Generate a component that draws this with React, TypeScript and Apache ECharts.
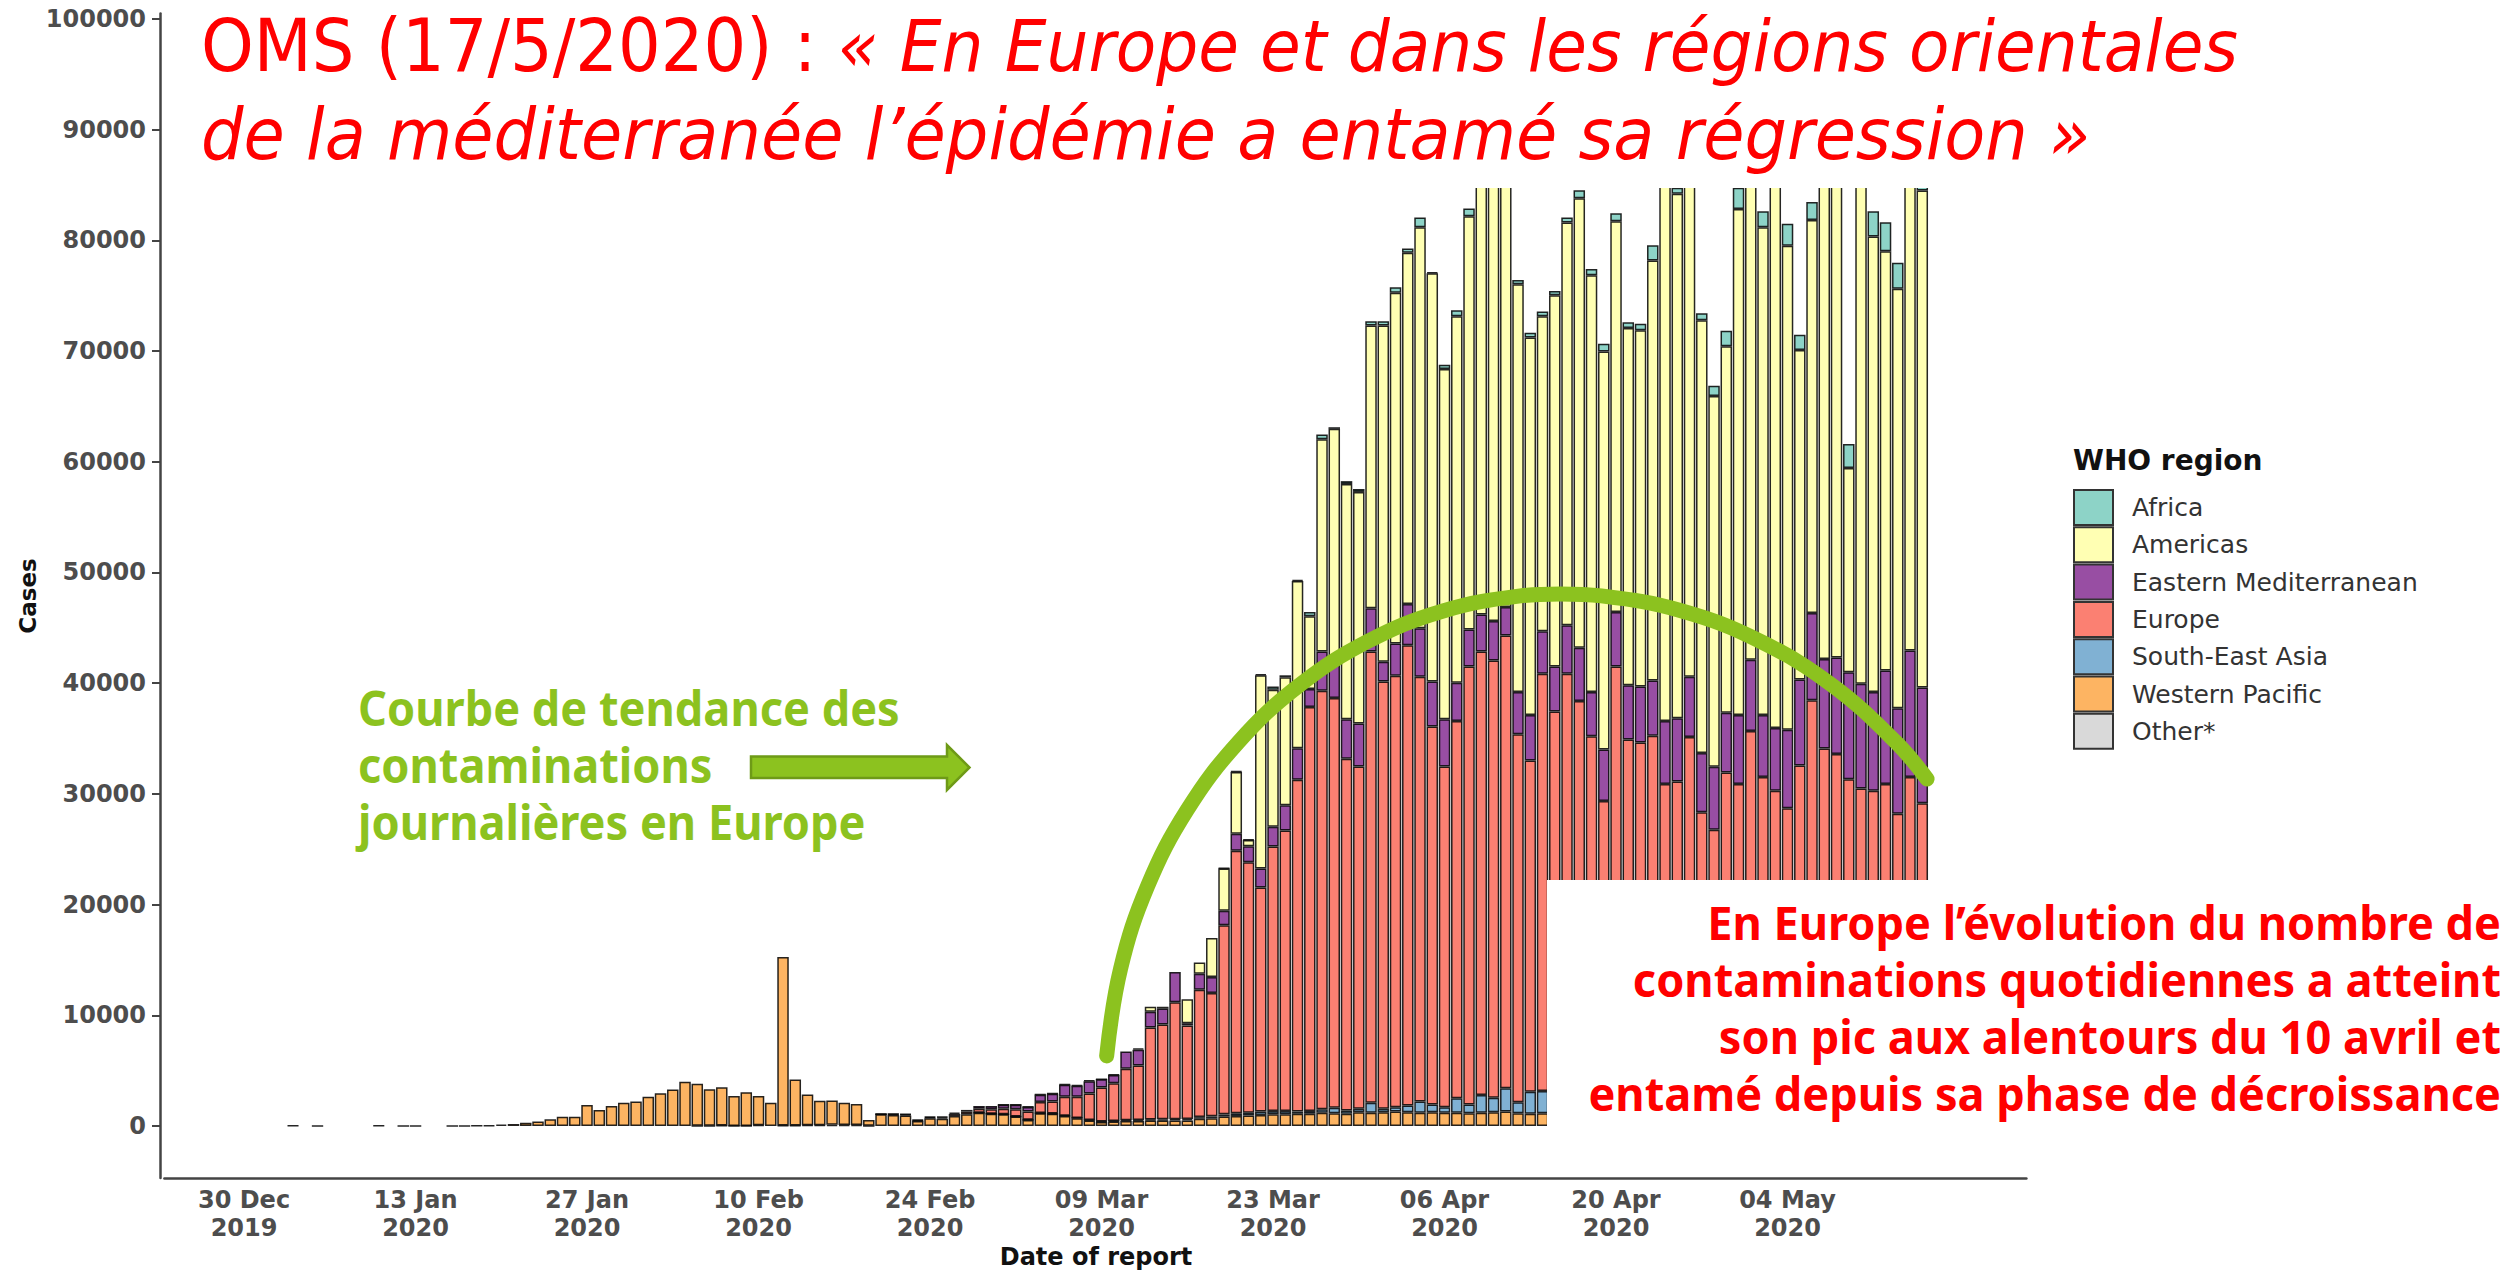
import React, { useEffect, useRef } from "react";
import * as echarts from "echarts";

// ---------- categories & ticks ----------
const firstCategoryUTC = Date.UTC(2019, 11, 24); // 24 Dec 2019
const categoryCount = 152;
const dataOffset = 6; // series arrays start on 30 Dec 2019

const tickDates = [
  "2019-12-30", "2020-01-13", "2020-01-27", "2020-02-10", "2020-02-24",
  "2020-03-09", "2020-03-23", "2020-04-06", "2020-04-20", "2020-05-04",
];
const tickLabels = [
  "30 Dec\n2019", "13 Jan\n2020", "27 Jan\n2020", "10 Feb\n2020", "24 Feb\n2020",
  "09 Mar\n2020", "23 Mar\n2020", "06 Apr\n2020", "20 Apr\n2020", "04 May\n2020",
];
const yTicks = [0, 10000, 20000, 30000, 40000, 50000, 60000, 70000, 80000, 90000, 100000];

// ---------- series (daily cases from 30 Dec 2019) ----------
const other = [
  0, 0, 0, 0, 0, 0, 0, 0, 0, 0,
  0, 0, 0, 0, 0, 0, 0, 0, 0, 0,
  0, 0, 0, 0, 0, 0, 0, 0, 0, 0,
  0, 0, 0, 0, 0, 0, 0, 10, 10, 40,
  3, 6, 65, 0, 40, 45, 67, 70, 99, 88,
  80, 13, 0, 0, 0, 0, 0, 0, 0, 0,
  0, 0, 0, 0, 0, 0, 0, 0, 0, 0,
  0, 0, 0, 0, 0, 0, 0, 0, 0, 0,
  0, 0, 0, 0, 0, 0, 0, 0, 0, 0,
  0, 0, 0, 0, 0, 0, 0, 0, 0, 0,
  0, 0, 0, 0, 0, 0, 0, 0, 0, 0,
  0, 0, 0, 0, 0, 0, 0, 0, 0, 0,
  0, 0, 0, 0, 0, 0, 0, 0, 0, 0,
  0, 0, 0, 0, 0, 0, 0, 0,
];
const westernPacific = [
  0, 0, 0, 0, 44, 0, 15, 0, 0, 0,
  0, 41, 0, 1, 1, 0, 0, 4, 10, 20,
  60, 130, 180, 300, 400, 600, 840, 840, 1900, 1450,
  1800, 2100, 2200, 2650, 2950, 3300, 4000, 3800, 3300, 3450,
  2700, 3050, 2650, 2100, 15230, 4150, 2770, 2200, 2200, 2000,
  1900, 530, 1050, 1000, 950, 450, 700, 650, 900, 1050,
  1200, 1100, 1050, 850, 550, 1150, 1100, 900, 700, 500,
  350, 400, 450, 450, 500, 500, 500, 500, 650, 700,
  850, 900, 950, 1000, 1050, 1050, 1100, 1100, 1200, 1150,
  1100, 1250, 1200, 1250, 1300, 1250, 1200, 1250, 1200, 1200,
  1150, 1200, 1250, 1300, 1150, 1100, 1150, 1100, 1150, 1200,
  1050, 1000, 1100, 1150, 1050, 1000, 1100, 950, 1000, 1050,
  900, 950, 1000, 1050, 900, 950, 1100, 1000, 950, 900,
  1050, 1000, 950, 1000, 1050, 900, 950, 1000,
];
const southEastAsia = [
  0, 0, 0, 0, 0, 0, 0, 0, 0, 0,
  0, 0, 0, 0, 0, 0, 0, 0, 0, 0,
  0, 0, 0, 0, 0, 0, 0, 0, 0, 0,
  0, 0, 0, 0, 0, 0, 0, 0, 0, 0,
  0, 0, 0, 0, 0, 0, 0, 0, 0, 0,
  0, 0, 0, 0, 0, 0, 0, 0, 0, 0,
  5, 5, 10, 10, 15, 20, 20, 30, 30, 40,
  50, 60, 70, 80, 90, 100, 110, 130, 150, 170,
  200, 250, 250, 300, 300, 300, 200, 250, 300, 500,
  300, 300, 900, 300, 400, 600, 1000, 700, 500, 1300,
  800, 1600, 1300, 2100, 1000, 2000, 2000, 2400, 2300, 2200,
  2300, 2400, 2300, 2600, 2800, 3000, 3100, 3000, 3200, 3100,
  3300, 3300, 3300, 3400, 3300, 3500, 3500, 3600, 3500, 3700,
  3800, 3600, 3700, 3800, 3900, 3700, 3900, 4000,
];
const europe = [
  0, 0, 0, 0, 0, 0, 0, 0, 0, 0,
  0, 0, 0, 0, 0, 0, 0, 0, 0, 0,
  0, 0, 0, 0, 0, 0, 0, 0, 0, 0,
  0, 0, 0, 0, 0, 0, 0, 0, 0, 0,
  0, 0, 0, 0, 0, 0, 0, 0, 0, 0,
  0, 0, 20, 60, 80, 60, 90, 120, 180, 250,
  350, 400, 500, 650, 750, 1000, 1100, 1700, 1900, 2400,
  3070, 3400, 4660, 4930, 8300, 8570, 10560, 8455, 11510, 11150,
  17070, 23700, 22630, 20250, 23900, 25330, 29970, 36490, 37820, 37010,
  31780, 30930, 40770, 38590, 38980, 41570, 38370, 34140, 30780, 34080,
  39550, 40070, 39500, 40900, 33230, 29920, 37700, 33950, 37400, 34980,
  31860, 25950, 38100, 31170, 30780, 31260, 26700, 27160, 30930, 24180,
  22560, 27690, 26600, 31220, 27330, 25830, 24100, 27960, 34000, 29500,
  28750, 26720, 25840, 25480, 25950, 23610, 26680, 24160,
];
const easternMediterranean = [
  0, 0, 0, 0, 0, 0, 0, 0, 0, 0,
  0, 0, 0, 0, 0, 0, 0, 0, 0, 0,
  0, 0, 0, 0, 0, 0, 0, 0, 0, 0,
  0, 0, 0, 0, 0, 0, 0, 0, 0, 0,
  0, 0, 0, 0, 0, 0, 0, 0, 0, 0,
  0, 0, 10, 20, 50, 40, 60, 80, 120, 150,
  250, 300, 350, 400, 400, 650, 700, 1100, 1000, 1100,
  740, 740, 1540, 1430, 1430, 1430, 2740, 200, 1430, 1430,
  1310, 1540, 1430, 1710, 1770, 2280, 2840, 1640, 3550, 3830,
  3560, 3880, 3890, 1800, 2910, 3720, 4390, 4050, 4260, 3450,
  3350, 3340, 3560, 2570, 3830, 4110, 3830, 4050, 4380, 4820,
  4000, 4660, 4930, 4900, 5070, 4980, 5680, 5720, 5440, 5350,
  5680, 5390, 6220, 6440, 5590, 5680, 7090, 7760, 7880, 8090,
  8720, 9660, 9460, 8920, 10250, 9530, 11410, 10450,
];
const americas = [
  0, 0, 0, 0, 0, 0, 0, 0, 0, 0,
  0, 0, 0, 0, 0, 0, 0, 0, 0, 0,
  0, 0, 0, 0, 0, 0, 0, 0, 0, 0,
  0, 0, 0, 0, 0, 0, 0, 0, 0, 0,
  0, 0, 0, 0, 0, 0, 0, 0, 0, 0,
  0, 0, 0, 0, 0, 0, 0, 0, 0, 0,
  0, 0, 10, 10, 20, 30, 40, 50, 60, 80,
  30, 50, 0, 110, 460, 170, 0, 2170, 1030, 3540,
  3820, 5590, 570, 17450, 12380, 11580, 15110, 6570, 19160, 20480,
  21240, 20910, 25550, 30370, 31680, 31740, 36220, 36890, 31630, 33110,
  37320, 41190, 43000, 40000, 36830, 34090, 28460, 33550, 36390, 40610,
  37640, 35950, 35300, 32270, 32180, 37950, 50000, 47380, 47000, 39110,
  33510, 33100, 45720, 44000, 44060, 50000, 43730, 29780, 35510, 44000,
  46000, 18460, 47000, 41150, 37870, 37880, 44000, 44890,
];
const africa = [
  0, 0, 0, 0, 0, 0, 0, 0, 0, 0,
  0, 0, 0, 0, 0, 0, 0, 0, 0, 0,
  0, 0, 0, 0, 0, 0, 0, 0, 0, 0,
  0, 0, 0, 0, 0, 0, 0, 0, 0, 0,
  0, 0, 0, 0, 0, 0, 0, 0, 0, 0,
  0, 0, 0, 0, 0, 0, 0, 0, 0, 0,
  0, 0, 0, 0, 0, 0, 0, 0, 0, 0,
  0, 0, 0, 0, 0, 0, 0, 0, 0, 0,
  50, 60, 70, 100, 290, 170, 100, 380, 430, 150,
  270, 270, 390, 390, 490, 380, 880, 100, 390, 540,
  710, 600, 700, 800, 380, 440, 430, 380, 440, 710,
  550, 710, 710, 500, 580, 1370, 800, 540, 900, 630,
  920, 1410, 1910, 1000, 1450, 1000, 1990, 1370, 1620, 1300,
  1500, 2160, 1500, 2280, 2610, 2360, 1800, 1500,
];

// hand-drawn trend curve (days since 30 Dec 2019, cases)
const trendDays = [70.42, 71.55, 73.76, 77.0, 81.17, 86.12, 91.73, 97.81, 104.19, 107.43, 110.81, 117.46, 123.81, 129.67, 134.85, 137.39];
const trendValues = [6330, 14180, 21660, 28560, 34670, 39790, 43770, 46500, 47880, 48060, 47880, 46500, 43770, 39790, 34670, 31340];

const legendOrder = ["Africa", "Americas", "Eastern Mediterranean", "Europe", "South-East Asia", "Western Pacific", "Other*"];
const stackSeries = [
  { name: "Other*", data: other, color: "#D9D9D9" },
  { name: "Western Pacific", data: westernPacific, color: "#FDB462" },
  { name: "South-East Asia", data: southEastAsia, color: "#80B1D3" },
  { name: "Europe", data: europe, color: "#FB8072" },
  { name: "Eastern Mediterranean", data: easternMediterranean, color: "#984EA3" },
  { name: "Americas", data: americas, color: "#FFFFB3" },
  { name: "Africa", data: africa, color: "#8DD3C7" },
];

const titleLine1Upright = "OMS (17/5/2020) : ";
const titleLine1Italic = "« En Europe et dans les régions orientales";
const titleLine2 = "de la méditerranée l’épidémie a entamé sa régression »";
const greenLines = ["Courbe de tendance des", "contaminations", "journalières en Europe"];
const redNoteLines = [
  "En Europe l’évolution du nombre de",
  "contaminations quotidiennes a atteint",
  "son pic aux alentours du 10 avril et",
  "entamé depuis sa phase de décroissance",
];

function buildCategories(): string[] {
  const out: string[] = [];
  for (let i = 0; i < categoryCount; i++) {
    out.push(new Date(firstCategoryUTC + i * 86400000).toISOString().slice(0, 10));
  }
  return out;
}

function pad(arr: number[]): (number | null)[] {
  const out: (number | null)[] = new Array(categoryCount).fill(null);
  arr.forEach((v, i) => {
    out[i + dataOffset] = v === 0 ? null : v;
  });
  return out;
}

const RED = "#FF0000";
const GREEN = "#8CC21F";
const AXIS_FONT = "'DejaVu Sans', sans-serif";
const NOTE_FONT = "'Noto Sans', sans-serif";
const TITLE_FONT = "'DejaVu Sans', sans-serif";

export default function App() {
  const ref = useRef<HTMLDivElement>(null);

  useEffect(() => {
    if (!ref.current) return;
    const chart = echarts.init(ref.current, null, { renderer: "svg" });
    const categories = buildCategories();
    const isTick = (_i: number, v: string) => tickDates.indexOf(v) >= 0;

    const series: any[] = stackSeries.map((s) => ({
      type: "bar",
      name: s.name,
      stack: "cases",
      data: pad(s.data),
      barCategoryGap: "6%",
      itemStyle: { color: s.color, borderColor: "rgba(0,0,0,0.85)", borderWidth: 1.5 },
      emphasis: { disabled: true },
      silent: true,
    }));
    series.push({
      type: "line",
      name: "trend",
      xAxisIndex: 1,
      yAxisIndex: 0,
      data: trendDays.map((d, i) => [d, trendValues[i]]),
      smooth: 0.4,
      symbol: "none",
      lineStyle: { color: GREEN, width: 15, cap: "round", join: "round" },
      z: 5,
      silent: true,
    });

    const graphic: any[] = [
      // white cover boxes of the original slide
      { type: "rect", z: 50, shape: { x: 163, y: 0, width: 2351, height: 188 }, style: { fill: "#fff" } },
      { type: "rect", z: 50, shape: { x: 1547, y: 880, width: 967, height: 248 }, style: { fill: "#fff" } },
      // title
      {
        type: "text", z: 60, x: 201, y: 46, scaleX: 0.92,
        style: {
          text: `{n|${titleLine1Upright}}{i|${titleLine1Italic}}`,
          verticalAlign: "middle", align: "left",
          rich: {
            n: { fontFamily: TITLE_FONT, fontSize: 73, fill: RED },
            i: { fontFamily: TITLE_FONT, fontSize: 72, fontStyle: "italic", fill: RED },
          },
        },
      },
      {
        type: "text", z: 60, x: 201, y: 134, scaleX: 0.931,
        style: { text: titleLine2, fontFamily: TITLE_FONT, fontSize: 72, fontStyle: "italic", fill: RED, verticalAlign: "middle", align: "left" },
      },
      // axis titles
      {
        type: "text", z: 60, x: 28, y: 596, rotation: Math.PI / 2,
        style: { text: "Cases", fontFamily: AXIS_FONT, fontWeight: "bold", fontSize: 23, fill: "#111", align: "center", verticalAlign: "middle" },
      },
      {
        type: "text", z: 60, x: 1096, y: 1257,
        style: { text: "Date of report", fontFamily: AXIS_FONT, fontWeight: "bold", fontSize: 24, fill: "#111", align: "center", verticalAlign: "middle" },
      },
      // legend title
      {
        type: "text", z: 60, x: 2073, y: 460,
        style: { text: "WHO region", fontFamily: AXIS_FONT, fontWeight: "bold", fontSize: 28, fill: "#111", align: "left", verticalAlign: "middle" },
      },
      // green arrow
      {
        type: "polygon", z: 60,
        shape: { points: [[751, 756.5], [947, 756.5], [947, 745], [969.5, 767.5], [947, 790], [947, 778], [751, 778]] },
        style: { fill: GREEN, stroke: "#6E9A17", lineWidth: 2.5 },
      },
    ];
    greenLines.forEach((t, i) => {
      graphic.push({
        type: "text", z: 60, x: 358, y: 707 + i * 57, scaleX: 0.94,
        style: { text: t, fontFamily: NOTE_FONT, fontWeight: "bold", fontSize: 48, fill: GREEN, align: "left", verticalAlign: "middle" },
      });
    });
    redNoteLines.forEach((t, i) => {
      graphic.push({
        type: "text", z: 60, x: 2501, y: 922 + i * 57, scaleX: 0.96,
        style: { text: t, fontFamily: NOTE_FONT, fontWeight: "bold", fontSize: 47, fill: RED, align: "right", verticalAlign: "middle" },
      });
    });

    chart.setOption({
      animation: false,
      backgroundColor: "#fff",
      grid: { left: 164.4, right: 487.6, top: 13.4, bottom: 95, containLabel: false },
      legend: {
        orient: "vertical",
        left: 2073,
        top: 489,
        padding: 0,
        itemWidth: 39,
        itemHeight: 35,
        itemGap: 0.3,
        icon: "rect",
        selectedMode: false,
        data: legendOrder,
        itemStyle: { borderColor: "#333", borderWidth: 2 },
        textStyle: { fontFamily: AXIS_FONT, fontSize: 25, color: "#333", padding: [0, 0, 0, 14] },
      },
      xAxis: [
        {
          type: "category",
          data: categories,
          boundaryGap: true,
          axisLine: { onZero: false, lineStyle: { color: "#444", width: 2.5 } },
          axisTick: { alignWithLabel: true, interval: isTick, length: 8, lineStyle: { color: "#444", width: 2 } },
          axisLabel: {
            interval: isTick,
            formatter: (v: string) => {
              const k = tickDates.indexOf(v);
              return k >= 0 ? tickLabels[k] : "";
            },
            fontFamily: AXIS_FONT,
            fontWeight: "bold",
            fontSize: 24,
            lineHeight: 28,
            color: "#4D4D4D",
            margin: 8,
          },
          splitLine: { show: false },
        },
        { type: "value", min: -6.5, max: 145.5, show: false },
      ],
      yAxis: {
        type: "value",
        min: -4700,
        max: 100500,
        offset: 4.4,
        axisLine: { show: true, onZero: false, lineStyle: { color: "#444", width: 2.5 } },
        axisTick: { show: true, length: 8, customValues: yTicks, lineStyle: { color: "#444", width: 2 } },
        axisLabel: {
          customValues: yTicks,
          formatter: (v: number) => String(v),
          fontFamily: AXIS_FONT,
          fontWeight: "bold",
          fontSize: 24,
          color: "#4D4D4D",
          margin: 14,
        },
        splitLine: { show: false },
      },
      series,
      graphic,
    });
    return () => chart.dispose();
  }, []);

  return (
    <div
      ref={ref}
      style={{ position: "absolute", left: 0, top: 0, width: 2514, height: 1273, background: "#fff" }}
    />
  );
}
